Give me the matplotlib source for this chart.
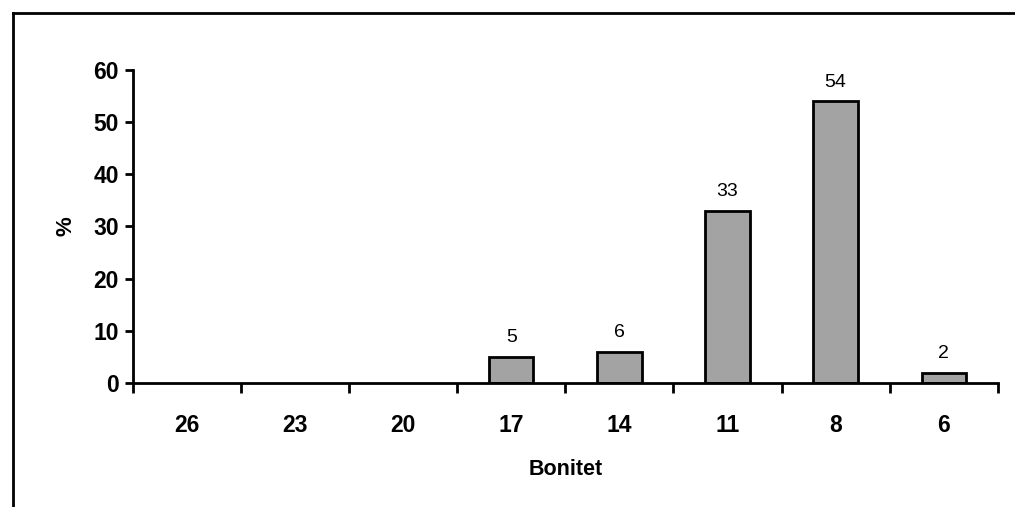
import numpy as np
import matplotlib.pyplot as plt
from matplotlib.lines import Line2D

plt.rcParams['font.family'] = ['Liberation Sans', 'DejaVu Sans']

categories = ['26', '23', '20', '17', '14', '11', '8', '6']
values = [0, 0, 0, 5, 6, 33, 54, 2]
shown = [None, None, None, '5', '6', '33', '54', '2']

fig = plt.figure(figsize=(10.15, 5.07), dpi=100)
ax = fig.add_axes([0.131, 0.2446, 0.852, 0.6174])

x = np.arange(len(categories))
bars = ax.bar(x, values, width=0.41, color='#a3a3a3', edgecolor='black', linewidth=2)
for b, lab in zip(bars, shown):
    if lab is None:
        b.set_visible(False)
        continue
    ax.text(b.get_x() + b.get_width() / 2, b.get_height() + 2.0, lab,
            ha='center', va='bottom', fontsize=14)

ax.set_xlim(-0.5, len(categories) - 0.5)
ax.set_ylim(0, 60)
ax.set_yticks([0, 10, 20, 30, 40, 50, 60])
ax.set_xticks(x)
ax.set_xticklabels(categories, fontsize=16.5, fontweight='bold')
ax.set_xticks(np.arange(-0.5, len(categories)), minor=True)
ax.tick_params(axis='x', which='major', length=0, pad=22)
ax.tick_params(axis='x', which='minor', length=7, width=2, direction='out')
ax.tick_params(axis='y', length=6, width=2, direction='out', labelsize=16.5, pad=4)
for t in ax.get_yticklabels():
    t.set_fontweight('bold')

for s in ['top', 'right']:
    ax.spines[s].set_visible(False)
for s in ['left', 'bottom']:
    ax.spines[s].set_linewidth(2)

ax.set_ylabel('%', fontsize=16, fontweight='bold', labelpad=12)
ax.set_xlabel('Bonitet', fontsize=15.5, fontweight='bold', labelpad=16)

# outer chart frame (top and left edges visible in the scan)
fig.add_artist(Line2D([13 / 1015, 1], [1 - 13 / 507, 1 - 13 / 507], color='black', lw=2))
fig.add_artist(Line2D([13 / 1015, 13 / 1015], [0, 1 - 13 / 507], color='black', lw=2))

fig.savefig('out.png', dpi=100)
